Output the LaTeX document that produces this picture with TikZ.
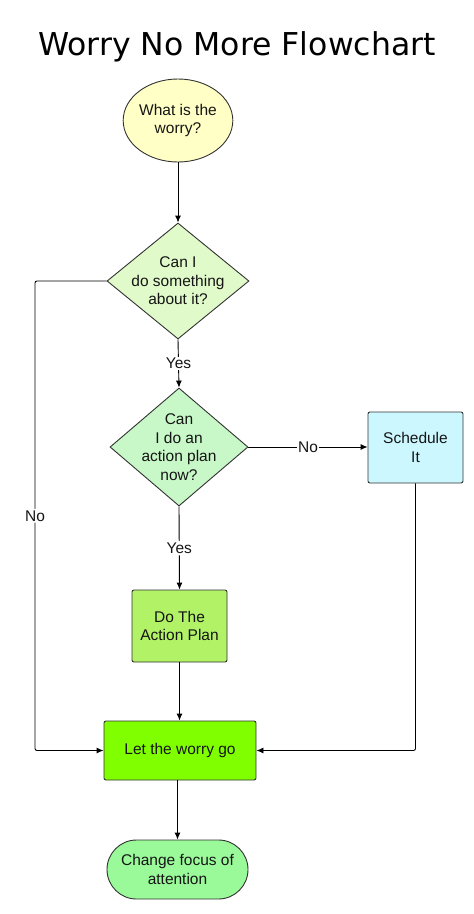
\documentclass[tikz,border=0pt]{standalone}
\usepackage{fontspec}
\setmainfont{Liberation Sans}
\newfontfamily\titlefont{DejaVu Sans}
\usetikzlibrary{shapes.geometric,arrows.meta}
\definecolor{cEll}{HTML}{FFFFC6}
\definecolor{cDiaA}{HTML}{E0FACA}
\definecolor{cDiaB}{HTML}{C8F7C8}
\definecolor{cSched}{HTML}{CCF7FF}
\definecolor{cAct}{HTML}{B2F266}
\definecolor{cLet}{HTML}{80FF00}
\definecolor{cFocus}{HTML}{9AFA9A}
\definecolor{cBorder}{HTML}{333333}
\definecolor{cText}{HTML}{151515}
\tikzset{
  base/.style={draw=cBorder, line width=0.9pt, inner sep=0pt, align=center, text=cText,
    font=\fontsize{15.5pt}{18.5pt}\selectfont},
  ellbox/.style={base, ellipse, fill=cEll, minimum width=108pt, minimum height=83pt},
  diabox/.style={base, diamond, fill=#1},
  rectbox/.style={base, rectangle, rounded corners=2pt},
  termbox/.style={base, rectangle, rounded corners=29.5pt, fill=cFocus, minimum width=141pt, minimum height=59pt},
  conn/.style={draw=black, line width=0.9pt, -{Latex[length=7pt,width=6pt]}},
  plain/.style={draw=black, line width=0.9pt},
  lbl/.style={fill=white, inner sep=1.5pt, text=cText, font=\fontsize{15.5pt}{18.5pt}\selectfont}
}
\begin{document}
\begin{tikzpicture}[x=1pt,y=-1pt]
\useasboundingbox[fill=white] (0,0) rectangle (474,914);
\node[font=\titlefont\fontsize{31.5pt}{36pt}\selectfont, inner sep=0pt, anchor=base] (title) at (237,55) {Worry No More Flowchart};
\node[ellbox] (worry) at (178,120.5) {What is the\\worry?};
\node[diabox=cDiaA, minimum width=142pt, minimum height=116pt,
  label={[text=cText, align=center, font=\fontsize{15.5pt}{18.5pt}\selectfont]center:Can I\\do something\\about it?}] (d1) at (178,281) {};
\node[diabox=cDiaB, minimum width=138pt, minimum height=118pt,
  label={[text=cText, align=center, font=\fontsize{15.5pt}{18.5pt}\selectfont]center:Can\\I do an\\action plan\\now?}] (d2) at (179,447) {};
\node[rectbox, fill=cSched, minimum width=95pt, minimum height=71pt] (sched) at (415.5,447.5) {Schedule\\It};
\node[rectbox, fill=cAct, minimum width=95pt, minimum height=72pt] (act) at (179.5,626) {Do The\\Action Plan};
\node[rectbox, fill=cLet, minimum width=152pt, minimum height=59pt] (let) at (180,750.5) {Let the worry go};
\node[termbox] (focus) at (177.5,869.5) {Change focus of\\attention};
\coordinate (lcorner) at (35,281);
\draw[conn] (worry.south) -- (d1.north);
\draw[conn] (d1.south) -- node[lbl] (yes1) {Yes} (d2.north);
\draw[conn] (d2.east) -- node[lbl] (no1) {No} (d2.east -| sched.west);
\draw[conn] (d2.south) -- node[lbl] (yes2) {Yes} (act.north);
\draw[conn] (act.south) -- (act.south |- let.north);
\draw[conn, rounded corners=2pt] (d1.west) -- (lcorner) -- node[lbl] (no2) {No} (lcorner |- let.west) -- (let.west);
\draw[conn, rounded corners=2pt] (sched.south) |- (let.east);
\draw[conn] (let.south -| focus.north) -- (focus.north);
\end{tikzpicture}
\end{document}
